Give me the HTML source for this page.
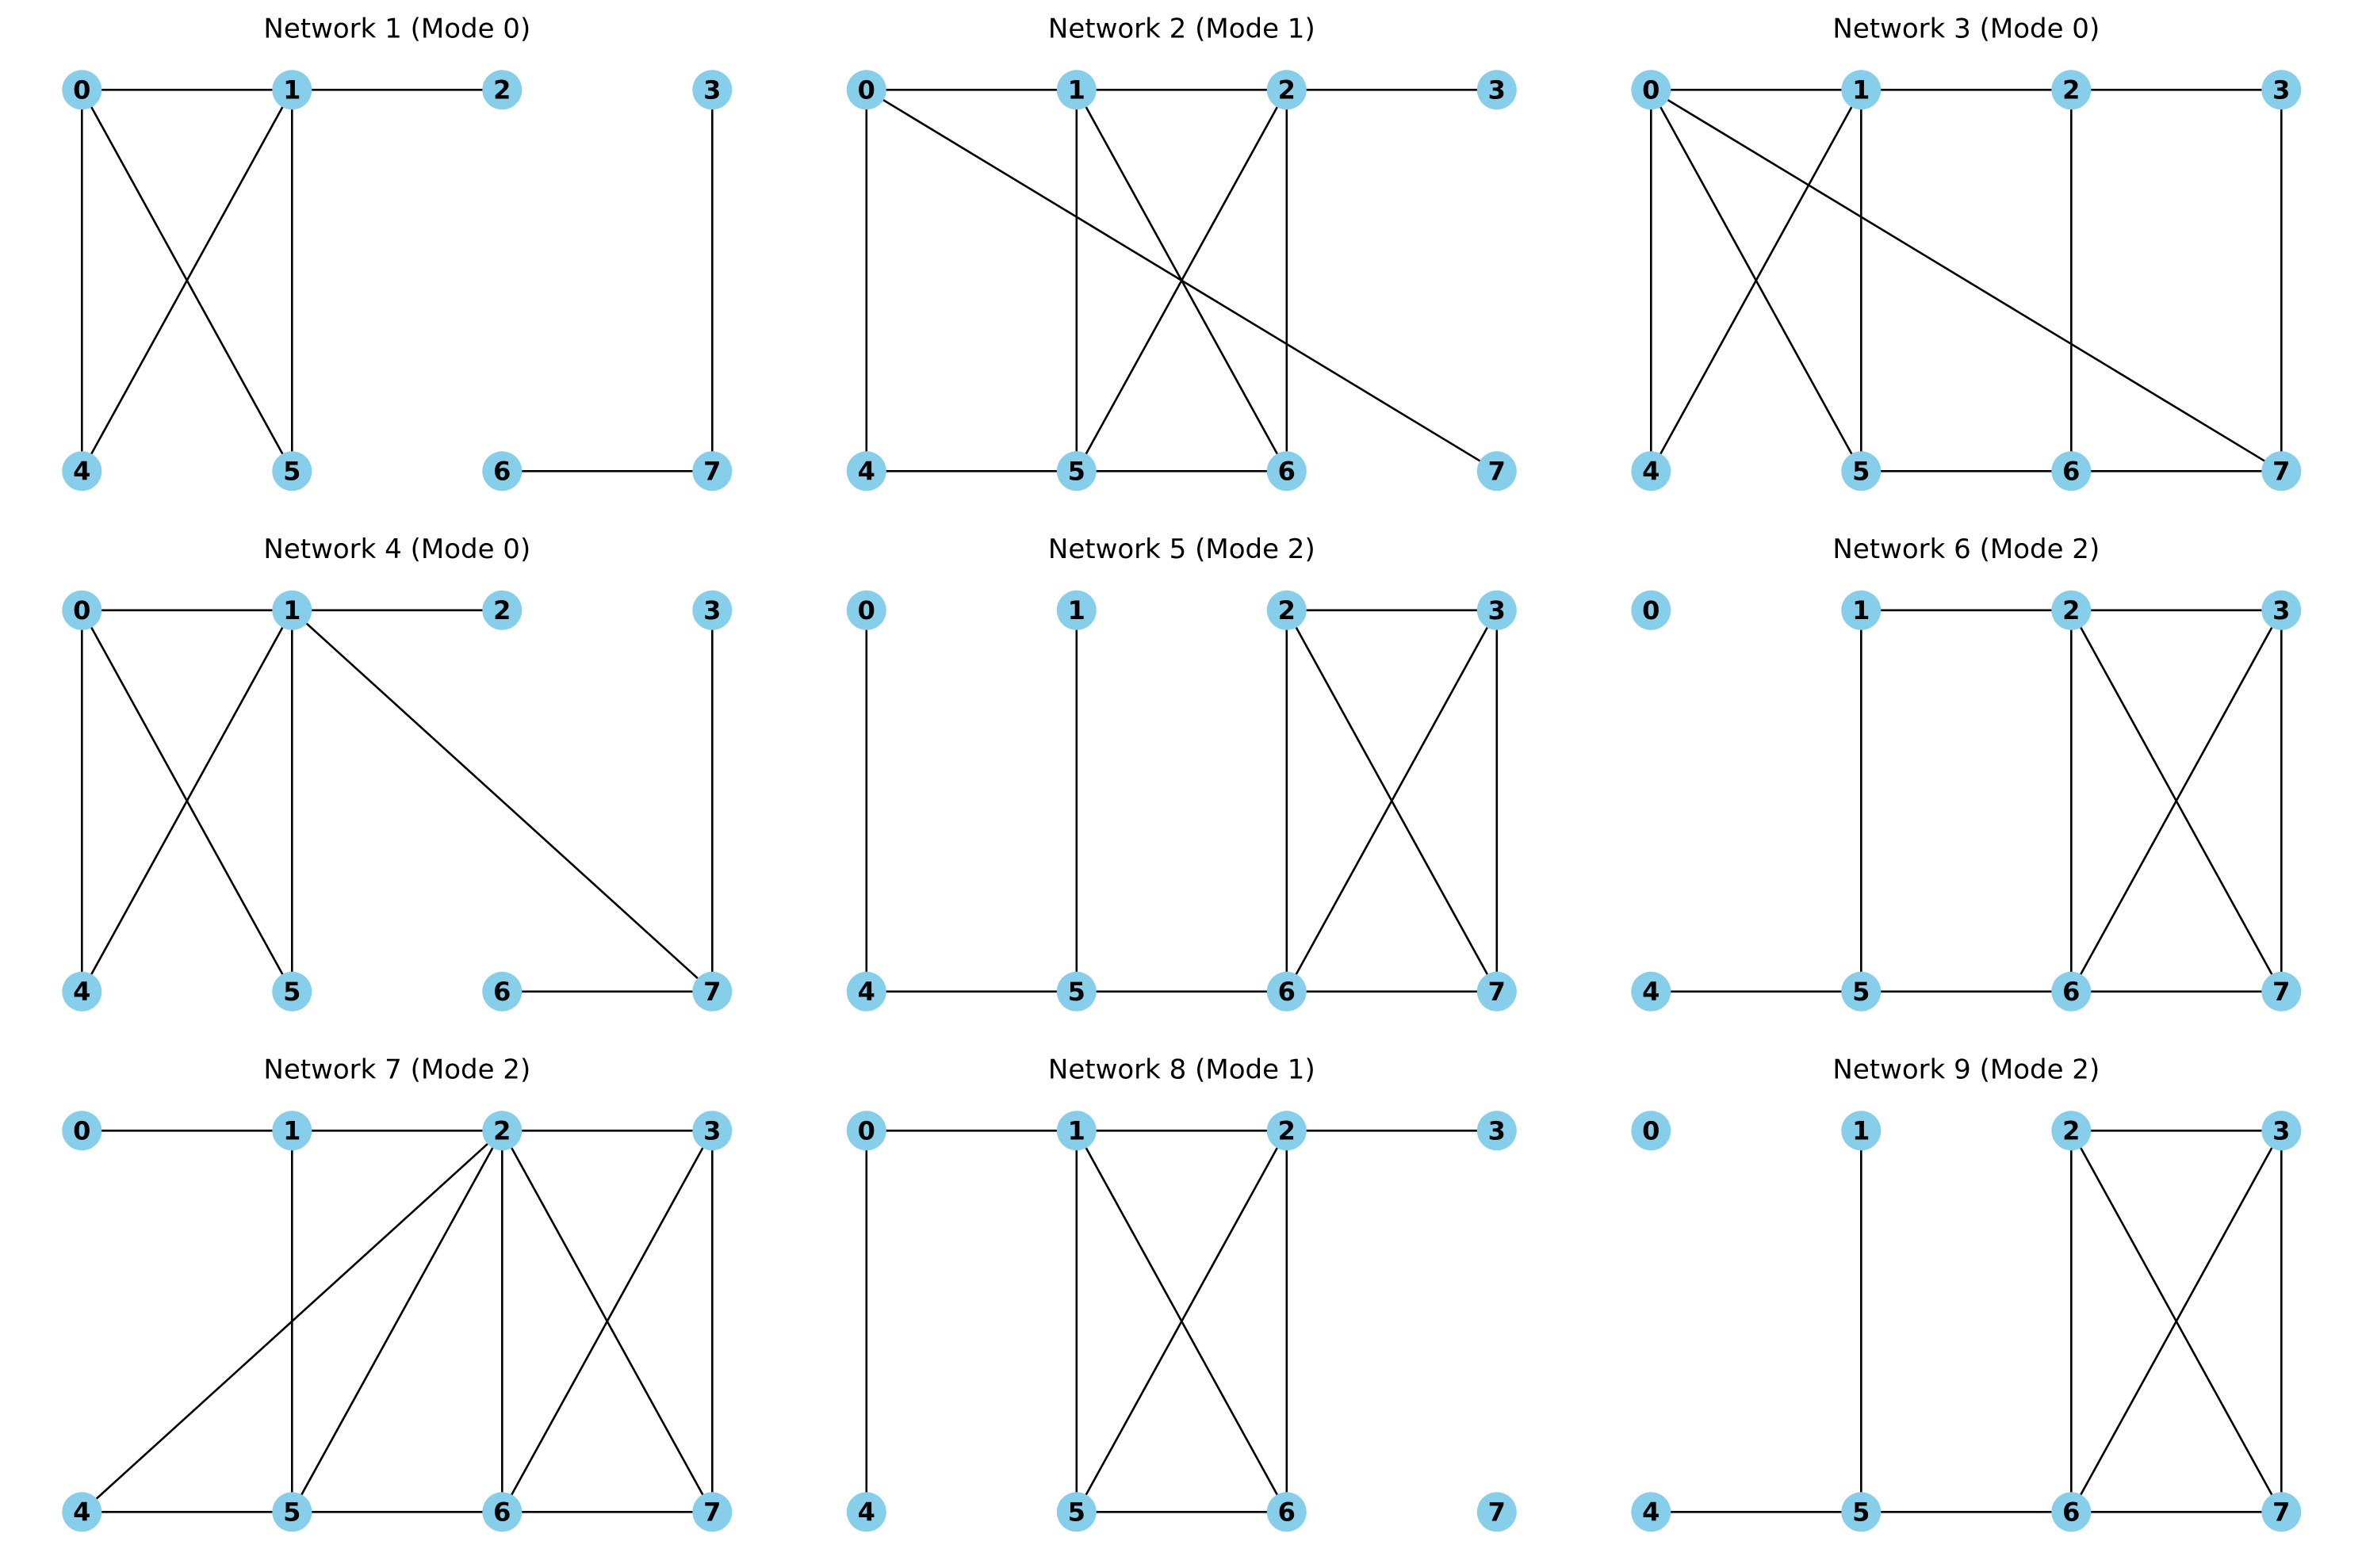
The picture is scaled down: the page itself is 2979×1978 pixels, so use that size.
<!DOCTYPE html>
<html><head><meta charset="utf-8"><style>
html,body{margin:0;padding:0;background:#fff;}
svg{display:block;}
.t{font-family:"DejaVu Sans","Liberation Sans",sans-serif;font-size:34px;text-anchor:middle;fill:#000;}
.n{font-family:"DejaVu Sans","Liberation Sans",sans-serif;font-size:32px;font-weight:bold;text-anchor:middle;fill:#000;}
line{stroke:#000;stroke-width:2.6;}
ellipse{fill:#87CEEB;}
</style></head><body>
<svg width="2979" height="1978" viewBox="0 0 2979 1978" xmlns="http://www.w3.org/2000/svg">
<defs>
<g id="nodes">
<ellipse cx="0" cy="0" rx="25" ry="25"/><ellipse cx="265" cy="0" rx="25" ry="25"/><ellipse cx="530" cy="0" rx="25" ry="25"/><ellipse cx="795" cy="0" rx="25" ry="25"/>
<ellipse cx="0" cy="481" rx="25" ry="25"/><ellipse cx="265" cy="481" rx="25" ry="25"/><ellipse cx="530" cy="481" rx="25" ry="25"/><ellipse cx="795" cy="481" rx="25" ry="25"/>
</g>
</defs>

<!-- Network 1 -->
<g transform="translate(103.3,113.3)">
<text class="t" x="397.5" y="-66">Network 1 (Mode 0)</text>
<line x1="0" y1="0" x2="265" y2="0"/><line x1="265" y1="0" x2="530" y2="0"/>
<line x1="0" y1="0" x2="0" y2="481"/><line x1="0" y1="0" x2="265" y2="481"/>
<line x1="265" y1="0" x2="0" y2="481"/><line x1="265" y1="0" x2="265" y2="481"/>
<line x1="795" y1="0" x2="795" y2="481"/><line x1="530" y1="481" x2="795" y2="481"/>
<use href="#nodes"/>
<text class="n" x="0" y="11">0</text><text class="n" x="265" y="11">1</text><text class="n" x="530" y="11">2</text><text class="n" x="795" y="11">3</text>
<text class="n" x="0" y="492">4</text><text class="n" x="265" y="492">5</text><text class="n" x="530" y="492">6</text><text class="n" x="795" y="492">7</text>
</g>

<!-- Network 2 -->
<g transform="translate(1092.8,113.3)">
<text class="t" x="397.5" y="-66">Network 2 (Mode 1)</text>
<line x1="0" y1="0" x2="795" y2="0"/>
<line x1="0" y1="0" x2="0" y2="481"/><line x1="0" y1="0" x2="795" y2="481"/>
<line x1="265" y1="0" x2="265" y2="481"/><line x1="265" y1="0" x2="530" y2="481"/>
<line x1="530" y1="0" x2="265" y2="481"/><line x1="530" y1="0" x2="530" y2="481"/>
<line x1="0" y1="481" x2="530" y2="481"/>
<use href="#nodes"/>
<text class="n" x="0" y="11">0</text><text class="n" x="265" y="11">1</text><text class="n" x="530" y="11">2</text><text class="n" x="795" y="11">3</text>
<text class="n" x="0" y="492">4</text><text class="n" x="265" y="492">5</text><text class="n" x="530" y="492">6</text><text class="n" x="795" y="492">7</text>
</g>

<!-- Network 3 -->
<g transform="translate(2082.3,113.3)">
<text class="t" x="397.5" y="-66">Network 3 (Mode 0)</text>
<line x1="0" y1="0" x2="795" y2="0"/>
<line x1="0" y1="0" x2="0" y2="481"/><line x1="0" y1="0" x2="265" y2="481"/><line x1="0" y1="0" x2="795" y2="481"/>
<line x1="265" y1="0" x2="0" y2="481"/><line x1="265" y1="0" x2="265" y2="481"/>
<line x1="530" y1="0" x2="530" y2="481"/><line x1="795" y1="0" x2="795" y2="481"/>
<line x1="265" y1="481" x2="795" y2="481"/>
<use href="#nodes"/>
<text class="n" x="0" y="11">0</text><text class="n" x="265" y="11">1</text><text class="n" x="530" y="11">2</text><text class="n" x="795" y="11">3</text>
<text class="n" x="0" y="492">4</text><text class="n" x="265" y="492">5</text><text class="n" x="530" y="492">6</text><text class="n" x="795" y="492">7</text>
</g>

<!-- Network 4 -->
<g transform="translate(103.3,769.8)">
<text class="t" x="397.5" y="-66">Network 4 (Mode 0)</text>
<line x1="0" y1="0" x2="530" y2="0"/>
<line x1="0" y1="0" x2="0" y2="481"/><line x1="0" y1="0" x2="265" y2="481"/>
<line x1="265" y1="0" x2="0" y2="481"/><line x1="265" y1="0" x2="265" y2="481"/><line x1="265" y1="0" x2="795" y2="481"/>
<line x1="795" y1="0" x2="795" y2="481"/><line x1="530" y1="481" x2="795" y2="481"/>
<use href="#nodes"/>
<text class="n" x="0" y="11">0</text><text class="n" x="265" y="11">1</text><text class="n" x="530" y="11">2</text><text class="n" x="795" y="11">3</text>
<text class="n" x="0" y="492">4</text><text class="n" x="265" y="492">5</text><text class="n" x="530" y="492">6</text><text class="n" x="795" y="492">7</text>
</g>

<!-- Network 5 -->
<g transform="translate(1092.8,769.8)">
<text class="t" x="397.5" y="-66">Network 5 (Mode 2)</text>
<line x1="0" y1="0" x2="0" y2="481"/><line x1="265" y1="0" x2="265" y2="481"/>
<line x1="530" y1="0" x2="795" y2="0"/>
<line x1="530" y1="0" x2="530" y2="481"/><line x1="530" y1="0" x2="795" y2="481"/>
<line x1="795" y1="0" x2="530" y2="481"/><line x1="795" y1="0" x2="795" y2="481"/>
<line x1="0" y1="481" x2="795" y2="481"/>
<use href="#nodes"/>
<text class="n" x="0" y="11">0</text><text class="n" x="265" y="11">1</text><text class="n" x="530" y="11">2</text><text class="n" x="795" y="11">3</text>
<text class="n" x="0" y="492">4</text><text class="n" x="265" y="492">5</text><text class="n" x="530" y="492">6</text><text class="n" x="795" y="492">7</text>
</g>

<!-- Network 6 -->
<g transform="translate(2082.3,769.8)">
<text class="t" x="397.5" y="-66">Network 6 (Mode 2)</text>
<line x1="265" y1="0" x2="795" y2="0"/>
<line x1="265" y1="0" x2="265" y2="481"/>
<line x1="530" y1="0" x2="530" y2="481"/><line x1="530" y1="0" x2="795" y2="481"/>
<line x1="795" y1="0" x2="530" y2="481"/><line x1="795" y1="0" x2="795" y2="481"/>
<line x1="0" y1="481" x2="795" y2="481"/>
<use href="#nodes"/>
<text class="n" x="0" y="11">0</text><text class="n" x="265" y="11">1</text><text class="n" x="530" y="11">2</text><text class="n" x="795" y="11">3</text>
<text class="n" x="0" y="492">4</text><text class="n" x="265" y="492">5</text><text class="n" x="530" y="492">6</text><text class="n" x="795" y="492">7</text>
</g>

<!-- Network 7 -->
<g transform="translate(103.3,1426.3)">
<text class="t" x="397.5" y="-66">Network 7 (Mode 2)</text>
<line x1="0" y1="0" x2="795" y2="0"/>
<line x1="265" y1="0" x2="265" y2="481"/>
<line x1="530" y1="0" x2="0" y2="481"/><line x1="530" y1="0" x2="265" y2="481"/>
<line x1="530" y1="0" x2="530" y2="481"/><line x1="530" y1="0" x2="795" y2="481"/>
<line x1="795" y1="0" x2="530" y2="481"/><line x1="795" y1="0" x2="795" y2="481"/>
<line x1="0" y1="481" x2="795" y2="481"/>
<use href="#nodes"/>
<text class="n" x="0" y="11">0</text><text class="n" x="265" y="11">1</text><text class="n" x="530" y="11">2</text><text class="n" x="795" y="11">3</text>
<text class="n" x="0" y="492">4</text><text class="n" x="265" y="492">5</text><text class="n" x="530" y="492">6</text><text class="n" x="795" y="492">7</text>
</g>

<!-- Network 8 -->
<g transform="translate(1092.8,1426.3)">
<text class="t" x="397.5" y="-66">Network 8 (Mode 1)</text>
<line x1="0" y1="0" x2="795" y2="0"/>
<line x1="0" y1="0" x2="0" y2="481"/>
<line x1="265" y1="0" x2="265" y2="481"/><line x1="265" y1="0" x2="530" y2="481"/>
<line x1="530" y1="0" x2="265" y2="481"/><line x1="530" y1="0" x2="530" y2="481"/>
<line x1="265" y1="481" x2="530" y2="481"/>
<use href="#nodes"/>
<text class="n" x="0" y="11">0</text><text class="n" x="265" y="11">1</text><text class="n" x="530" y="11">2</text><text class="n" x="795" y="11">3</text>
<text class="n" x="0" y="492">4</text><text class="n" x="265" y="492">5</text><text class="n" x="530" y="492">6</text><text class="n" x="795" y="492">7</text>
</g>

<!-- Network 9 -->
<g transform="translate(2082.3,1426.3)">
<text class="t" x="397.5" y="-66">Network 9 (Mode 2)</text>
<line x1="265" y1="0" x2="265" y2="481"/>
<line x1="530" y1="0" x2="795" y2="0"/>
<line x1="530" y1="0" x2="530" y2="481"/><line x1="530" y1="0" x2="795" y2="481"/>
<line x1="795" y1="0" x2="530" y2="481"/><line x1="795" y1="0" x2="795" y2="481"/>
<line x1="0" y1="481" x2="795" y2="481"/>
<use href="#nodes"/>
<text class="n" x="0" y="11">0</text><text class="n" x="265" y="11">1</text><text class="n" x="530" y="11">2</text><text class="n" x="795" y="11">3</text>
<text class="n" x="0" y="492">4</text><text class="n" x="265" y="492">5</text><text class="n" x="530" y="492">6</text><text class="n" x="795" y="492">7</text>
</g>
</svg>
</body></html>
